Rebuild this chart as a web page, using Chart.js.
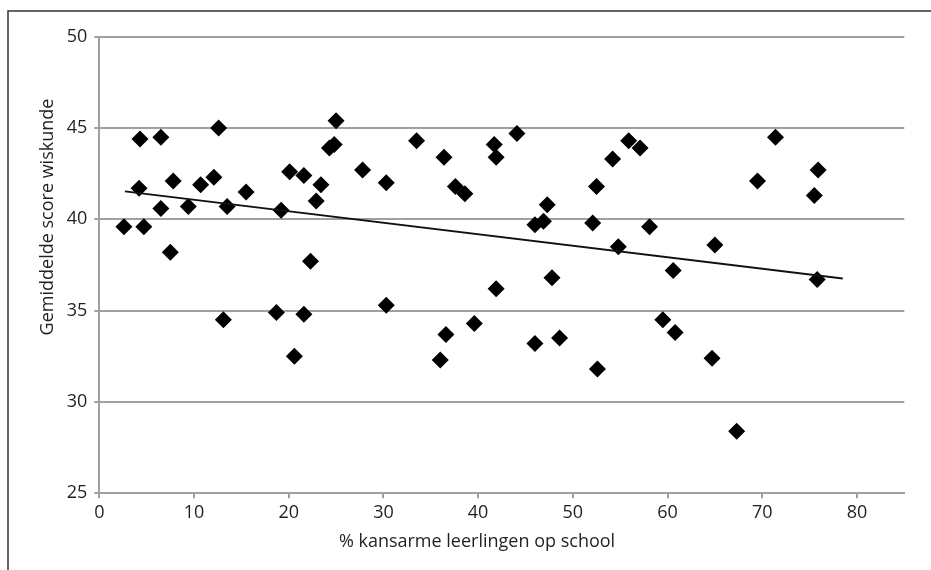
<!DOCTYPE html>
<html>
<head>
<meta charset="utf-8">
<script src="https://cdn.jsdelivr.net/npm/chart.js@4.4.1/dist/chart.umd.min.js"></script>
<style>
  html, body { margin: 0; padding: 0; background: #fff; }
  #wrap { width: 931px; height: 570px; position: relative; }
</style>
</head>
<body>
<div id="wrap"><canvas id="c" width="931" height="570"></canvas></div>
<script>
// ---- data ----
const xTitle = '% kansarme leerlingen op school';
const yTitle = 'Gemiddelde score wiskunde';
const pctKansarm = [
  4.3, 6.5, 12.6, 25.0, 24.3, 24.8, 4.2, 7.8, 10.7, 12.1,
  15.5, 20.1, 21.6, 27.8, 30.3, 23.4, 22.9, 6.5, 9.4, 13.5,
  19.2, 2.6, 4.7, 7.5, 22.3, 30.3, 13.1, 18.7, 21.6, 20.6,
  33.5, 36.4, 41.7, 41.9, 44.1, 37.6, 38.6, 47.3, 46.0, 46.9,
  54.2, 55.9, 57.1, 52.5, 52.1, 58.1, 54.8, 60.6, 47.8, 41.9,
  39.6, 36.6, 36.0, 46.0, 48.6, 52.6, 59.5, 60.8,
  71.4, 69.5, 75.9, 75.5, 65.0, 75.8, 64.7, 67.3
];
const scoreWiskunde = [
  44.4, 44.5, 45.0, 45.4, 43.9, 44.1, 41.7, 42.1, 41.9, 42.3,
  41.5, 42.6, 42.4, 42.7, 42.0, 41.9, 41.0, 40.6, 40.7, 40.7,
  40.5, 39.6, 39.6, 38.2, 37.7, 35.3, 34.5, 34.9, 34.8, 32.5,
  44.3, 43.4, 44.1, 43.4, 44.7, 41.8, 41.4, 40.8, 39.7, 39.9,
  43.3, 44.3, 43.9, 41.8, 39.8, 39.6, 38.5, 37.2, 36.8, 36.2,
  34.3, 33.7, 32.3, 33.2, 33.5, 31.8, 34.5, 33.8,
  44.5, 42.1, 42.7, 41.3, 38.6, 36.7, 32.4, 28.4
];
const trendX = [2.7, 78.5];
const trendY = [41.53, 36.76];
const xTicks = [0, 10, 20, 30, 40, 50, 60, 70, 80];
const yTicks = [25, 30, 35, 40, 45, 50];

// ---- build ----
const points = pctKansarm.map((x, i) => ({ x: x, y: scoreWiskunde[i] }));
const trend = trendX.map((x, i) => ({ x: x, y: trendY[i] }));

const FONT = "'Open Sans', 'DejaVu Sans', sans-serif";
const TXT = '#231f20';
const GRID = '#a0a0a0';

const decor = {
  id: 'decor',
  beforeDraw(chart) {
    const ctx = chart.ctx;
    ctx.save();
    ctx.fillStyle = '#fff';
    ctx.fillRect(0, 0, chart.width, chart.height);
    ctx.restore();
  },
  afterDraw(chart) {
    const ctx = chart.ctx;
    ctx.save();
    // frame (top and left lines)
    ctx.strokeStyle = '#333';
    ctx.lineWidth = 1.5;
    ctx.beginPath();
    ctx.moveTo(8, chart.height);
    ctx.lineTo(8, 11);
    ctx.lineTo(chart.width, 11);
    ctx.stroke();
    // axis titles
    ctx.fillStyle = TXT;
    ctx.font = "18px " + FONT;
    ctx.textAlign = 'center';
    ctx.textBaseline = 'middle';
    ctx.fillText(xTitle, 477, 542);
    ctx.translate(48, 217);
    ctx.rotate(-Math.PI / 2);
    ctx.fillText(yTitle, 0, 0);
    ctx.restore();
  }
};

new Chart(document.getElementById('c'), {
  type: 'scatter',
  data: {
    datasets: [
      {
        label: 'scholen',
        data: points,
        pointStyle: 'rectRot',
        pointRadius: 8.5,
        pointHoverRadius: 8.5,
        backgroundColor: '#000',
        borderColor: '#000',
        borderWidth: 0,
        order: 2
      },
      {
        label: 'trend',
        type: 'line',
        data: trend,
        showLine: true,
        borderColor: '#111',
        borderWidth: 1.8,
        pointRadius: 0,
        fill: false,
        order: 1
      }
    ]
  },
  options: {
    responsive: false,
    animation: false,
    devicePixelRatio: 1,
    layout: { padding: { left: 0, top: 36.7, right: 26.7, bottom: 0 } },
    plugins: { legend: { display: false }, tooltip: { enabled: false } },
    scales: {
      x: {
        type: 'linear',
        min: 0,
        max: 85,
        afterFit(s) { s.height = 570 - 493.3; },
        afterBuildTicks(s) { s.ticks = xTicks.map(v => ({ value: v })); },
        border: { color: GRID, width: 2 },
        grid: { drawOnChartArea: false, drawTicks: true, tickLength: 5, color: GRID, lineWidth: 2 },
        ticks: { color: TXT, font: { family: FONT, size: 18 }, padding: 4, maxRotation: 0 }
      },
      y: {
        type: 'linear',
        min: 25,
        max: 50,
        afterFit(s) { s.width = 99.3; },
        afterBuildTicks(s) { s.ticks = yTicks.map(v => ({ value: v })); },
        border: { color: GRID, width: 2 },
        grid: { drawOnChartArea: true, drawTicks: true, tickLength: 5, color: GRID, lineWidth: 2 },
        ticks: { color: TXT, font: { family: FONT, size: 18 }, padding: 7 }
      }
    }
  },
  plugins: [decor]
});
</script>
</body>
</html>
